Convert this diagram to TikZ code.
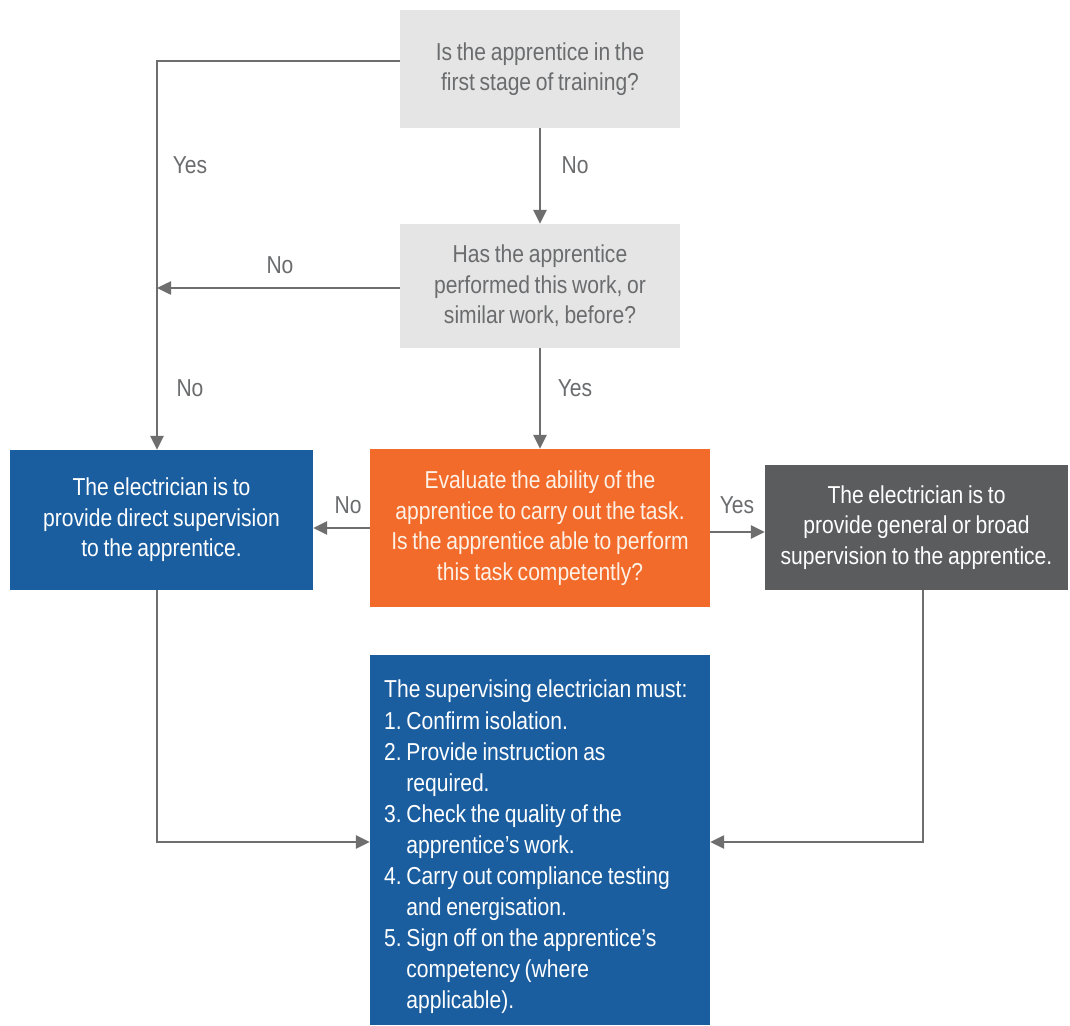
\documentclass[tikz,border=0pt]{standalone}
\usepackage{fontspec}
\setmainfont{Liberation Sans}[FakeStretch=0.86,WordSpace=0.8]
\usetikzlibrary{arrows.meta,positioning}
\definecolor{lgray}{HTML}{E5E5E5}
\definecolor{qtext}{HTML}{6B6C6E}
\definecolor{bblue}{HTML}{1B5E9F}
\definecolor{borange}{HTML}{F26B2B}
\definecolor{dgray}{HTML}{5B5C5E}
\definecolor{conncol}{HTML}{6E6E6E}
\definecolor{cream}{HTML}{FDF1E6}
\frenchspacing
\begin{document}
\begin{tikzpicture}[x=1pt,y=-1pt,
  every node/.style={font=\fontsize{24.5}{30.5}\selectfont},
  qbox/.style={rectangle,fill=lgray,text=qtext,align=center,minimum width=280pt,inner sep=0pt},
  colbox/.style={rectangle,align=center,inner sep=0pt,text=white},
  conn/.style={draw=conncol,line width=2.5pt},
  arr/.style={conn,-{Triangle[length=14pt,width=13pt]}},
  lbl/.style={text=qtext,inner sep=0pt}]
\useasboundingbox (0,0) rectangle (1070,1025);
\fill[white] (0,0) rectangle (1070,1025);
% boxes
\node[qbox,minimum height=117pt] (b1) at (540,69) {Is the apprentice in the\\first stage of training?};
\node[qbox,minimum height=124pt] (b2) at (540,286) {Has the apprentice\\performed this work, or\\similar work, before?};
\node[colbox,fill=bblue,minimum width=303pt,minimum height=140pt] (blue) at (161.5,520) {The electrician is to\\provide direct supervision\\to the apprentice.};
\node[colbox,fill=borange,text=cream,minimum width=340pt,minimum height=158pt] (or) at (540,528) {Evaluate the ability of the\\apprentice to carry out the task.\\Is the apprentice able to perform\\this task competently?};
\node[colbox,fill=dgray,minimum width=303pt,minimum height=125pt] (gy) at (916.5,527.5) {The electrician is to\\provide general or broad\\supervision to the apprentice.};
\node[colbox,fill=bblue,minimum width=340pt,minimum height=370pt] (bot) at (540,840) {};
\node[colbox,align=left,anchor=north west,font=\fontsize{24.5}{31.1}\selectfont] (bottxt) at (384,680) {The supervising electrician must:\\
1. Confirm isolation.\\
2. Provide instruction as\\
\phantom{2. }required.\\
3. Check the quality of the\\
\phantom{3. }apprentice’s work.\\
4. Carry out compliance testing\\
\phantom{4. }and energisation.\\
5. Sign off on the apprentice’s\\
\phantom{5. }competency (where\\
\phantom{5. }applicable).};
% connectors
\coordinate (L) at (157,0);
\draw[arr] ([yshift=8pt]b1.west) -| ([xshift=-4.5pt]blue.north);
\draw[arr] (b1.south) -- (b2.north);
\draw[arr] ([yshift=-2pt]b2.west) -- ([yshift=-2pt]b2.west -| L);
\draw[arr] (b2.south) -- (or.north);
\draw[arr] (or.west) -- (or.west -| blue.east);
\draw[arr] ([yshift=-4pt]or.east) -- ([yshift=-4pt]or.east -| gy.west);
\draw[arr] ([xshift=-4.5pt]blue.south) |- ([yshift=-2pt]bot.west);
\draw[arr] ([xshift=6.5pt]gy.south) |- ([yshift=-2pt]bot.east);
% labels
\node[lbl] (l1) at (190,165) {Yes};
\node[lbl] (l2) at (575,165) {No};
\node[lbl] (l3) at (280,265) {No};
\node[lbl] (l4) at (190,388) {No};
\node[lbl] (l5) at (575,388) {Yes};
\node[lbl] (l6) at (348,505) {No};
\node[lbl] (l7) at (737,505) {Yes};
\end{tikzpicture}
\end{document}
